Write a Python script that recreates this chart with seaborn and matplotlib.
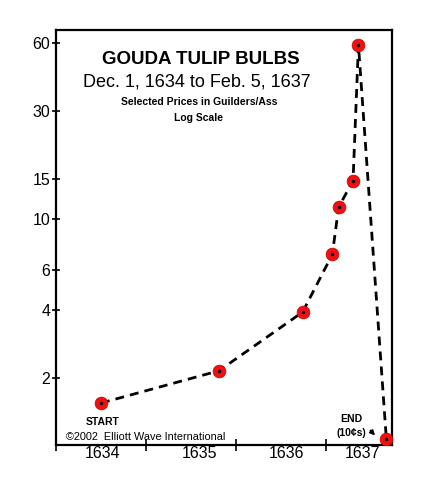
import numpy as np
import pandas as pd
import matplotlib
matplotlib.use("Agg")
import matplotlib.pyplot as plt
import seaborn as sns
from matplotlib.ticker import FixedLocator, NullFormatter, FixedFormatter


# selected prices (guilders / ass), decimal year positions as drawn
years = [1634.50, 1635.81, 1636.74, 1637.07, 1637.14, 1637.30, 1637.36, 1637.67]
prices = [1.55, 2.15, 3.9, 7.0, 11.3, 14.8, 58.5, 1.08]

y_ticks = [2, 4, 6, 10, 15, 30, 60]
y_labels = ["2", "4", "6", "10", "15", "30", "60"]

year_marks = [1634, 1635, 1636, 1637]
year_label_pos = [1634.52, 1635.59, 1636.56, 1637.41]
year_labels = ["1634", "1635", "1636", "1637"]

sns.set_style("ticks")
plt.rcParams["font.family"] = ["Liberation Sans", "DejaVu Sans"]
plt.rcParams["text.color"] = "black"
plt.rcParams["xtick.color"] = "black"
plt.rcParams["ytick.color"] = "black"
plt.rcParams["xtick.labelcolor"] = "black"
plt.rcParams["ytick.labelcolor"] = "black"

df = pd.DataFrame({"year": years, "price": prices})

fig = plt.figure(figsize=(4.43, 4.82), dpi=100)
ax = fig.add_axes([0.1264, 0.0768, 0.7585, 0.861])

sns.lineplot(
    data=df,
    x="year",
    y="price",
    sort=False,
    color="black",
    linewidth=2.0,
    linestyle=(0, (3.2, 2.2)),
    ax=ax
)

sns.scatterplot(
    data=df,
    x="year",
    y="price",
    color="#ee1111",
    s=85,
    edgecolor="#cc0000",
    linewidth=0.5,
    zorder=3,
    ax=ax
)
sns.scatterplot(
    data=df,
    x="year",
    y="price",
    color="black",
    s=6,
    linewidth=0,
    zorder=4,
    ax=ax
)

ax.set_yscale("log")
ax.set_ylim(1.013, 68.2)
ax.set_xlim(1634.0, 1637.733)

ax.yaxis.set_major_locator(FixedLocator(y_ticks))
ax.yaxis.set_major_formatter(FixedFormatter(y_labels))
ax.yaxis.set_minor_locator(FixedLocator([]))
ax.tick_params(axis="y", which="major", direction="inout", length=6,
               width=1.2, labelsize=11.5, pad=1)

ax.xaxis.set_major_locator(FixedLocator(year_marks))
ax.xaxis.set_major_formatter(NullFormatter())
ax.xaxis.set_minor_locator(FixedLocator(year_label_pos))
ax.xaxis.set_minor_formatter(FixedFormatter(year_labels))
ax.tick_params(axis="x", which="major", direction="inout", length=8, width=1.2)
ax.tick_params(axis="x", which="minor", length=0, labelsize=11.5, pad=1)

for side in ["top", "right", "left", "bottom"]:
    ax.spines[side].set_visible(True)
    ax.spines[side].set_linewidth(1.6)
    ax.spines[side].set_color("black")

ax.set_xlabel("")
ax.set_ylabel("")

ax.text(0.43, 0.93, "GOUDA TULIP BULBS", transform=ax.transAxes,
        ha="center", va="center", fontsize=13.5, fontweight="bold")
ax.text(0.42, 0.875, "Dec. 1, 1634 to Feb. 5, 1637", transform=ax.transAxes,
        ha="center", va="center", fontsize=13)
ax.text(0.425, 0.826, "Selected Prices in Guilders/Ass", transform=ax.transAxes,
        ha="center", va="center", fontsize=7.5, fontweight="bold")
ax.text(0.425, 0.787, "Log Scale", transform=ax.transAxes,
        ha="center", va="center", fontsize=7.5, fontweight="bold")

ax.text(0.14, 0.055, "START", transform=ax.transAxes,
        ha="center", va="center", fontsize=7.5, fontweight="bold")
ax.text(0.03, 0.02, "\u00a92002  Elliott Wave International", transform=ax.transAxes,
        ha="left", va="center", fontsize=7.8)
ax.text(0.88, 0.063, "END", transform=ax.transAxes,
        ha="center", va="center", fontsize=7.5, fontweight="bold")
ax.text(0.88, 0.029, "(10\u00a2s)", transform=ax.transAxes,
        ha="center", va="center", fontsize=7.5, fontweight="bold")
ax.annotate("", xy=(0.955, 0.018), xytext=(0.93, 0.04),
            xycoords="axes fraction",
            arrowprops=dict(arrowstyle="-|>", color="black", lw=1.2,
                            mutation_scale=7))

fig.savefig("out.png", dpi=100)
plt.close(fig)
